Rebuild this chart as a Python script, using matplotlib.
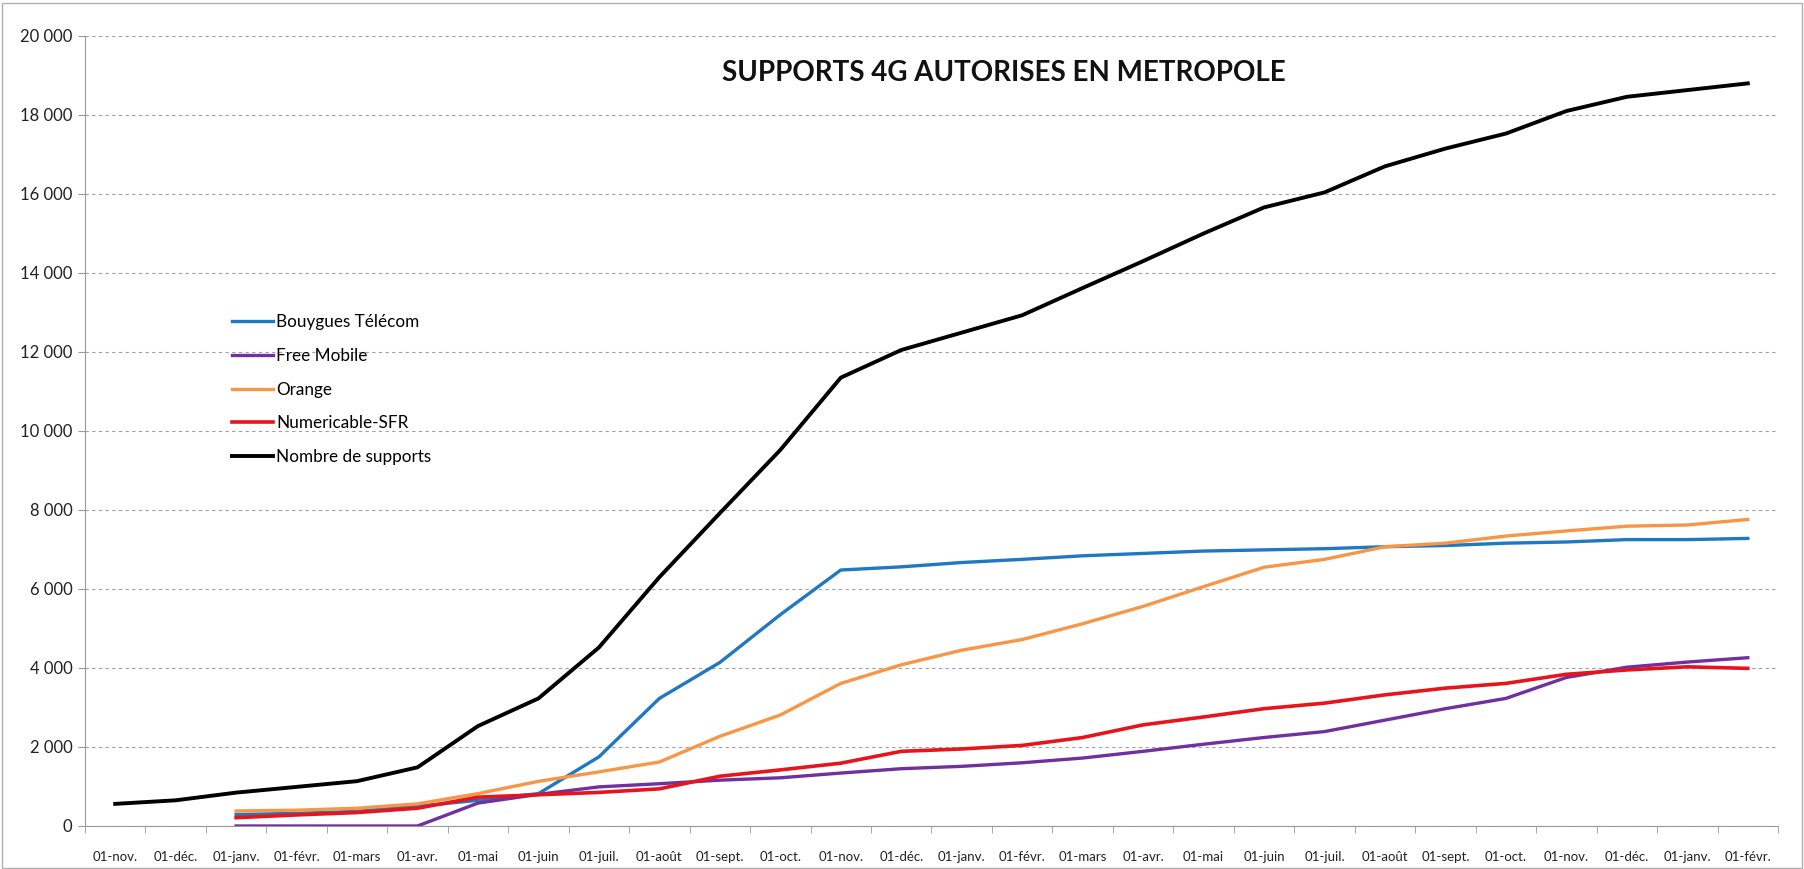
import numpy as np
import matplotlib
matplotlib.use("Agg")
import matplotlib.pyplot as plt
from matplotlib.patches import Rectangle
from matplotlib.ticker import FuncFormatter, MultipleLocator

nan = np.nan
months = ["01-nov.", "01-déc.", "01-janv.", "01-févr.", "01-mars", "01-avr.", "01-mai", "01-juin",
          "01-juil.", "01-août", "01-sept.", "01-oct.", "01-nov.", "01-déc.", "01-janv.", "01-févr.",
          "01-mars", "01-avr.", "01-mai", "01-juin", "01-juil.", "01-août", "01-sept.", "01-oct.",
          "01-nov.", "01-déc.", "01-janv.", "01-févr."]

bouygues = [nan, nan, 290, 320, 370, 500, 650, 820, 1750, 3230, 4140, 5350, 6480, 6560,
            6670, 6750, 6840, 6900, 6960, 6990, 7020, 7070, 7100, 7160, 7190, 7250, 7250, 7280]
free = [nan, nan, 0, 0, 0, 0, 580, 800, 990, 1070, 1160, 1220, 1340, 1450,
        1510, 1600, 1720, 1890, 2070, 2240, 2390, 2680, 2970, 3230, 3760, 4020, 4150, 4260]
orange = [nan, nan, 380, 400, 450, 560, 820, 1130, 1370, 1620, 2270, 2810, 3610, 4080,
          4450, 4720, 5120, 5560, 6060, 6550, 6750, 7070, 7160, 7340, 7470, 7590, 7620, 7760]
sfr = [nan, nan, 210, 280, 340, 450, 730, 790, 850, 940, 1260, 1420, 1590, 1890,
       1950, 2040, 2240, 2560, 2760, 2970, 3110, 3320, 3490, 3610, 3840, 3950, 4030, 3990]
total = [560, 650, 845, 990, 1135, 1485, 2530, 3230, 4520, 6300, 7920, 9520, 11350, 12050,
         12490, 12930, 13620, 14300, 15000, 15660, 16040, 16700, 17150, 17530, 18100, 18460, 18630, 18800]

series = [("Bouygues Télécom", bouygues, "#1f78c1", 2.4),
          ("Free Mobile", free, "#7030a0", 2.4),
          ("Orange", orange, "#f79646", 2.4),
          ("Numericable-SFR", sfr, "#e8141c", 2.6),
          ("Nombre de supports", total, "#000000", 2.8)]

plt.rcParams['font.family'] = ['Lato', 'DejaVu Sans']

fig = plt.figure(figsize=(18.04, 8.69), dpi=100)
ax = fig.add_axes([0.0471, 0.0495, 0.9385, 0.9091])

x = np.arange(len(months))
for name, vals, col, lw in series:
    ax.plot(x, vals, color=col, lw=lw, label=name, solid_joinstyle='round')

ax.set_xlim(-0.5, len(months) - 0.5)
ax.set_ylim(0, 20000)
ax.yaxis.set_major_locator(MultipleLocator(2000))
ax.yaxis.set_major_formatter(FuncFormatter(lambda v, p: f"{int(v):,}".replace(",", " ")))
ax.set_xticks(x)
ax.set_xticklabels(months, fontsize=9.5)
ax.set_xticks(np.arange(-0.5, len(months)), minor=True)
ax.tick_params(axis='x', which='major', length=0, pad=18, colors='#222222')
ax.tick_params(axis='x', which='minor', length=5, color='#999999')
ax.tick_params(axis='y', length=5, color='#999999', labelsize=12, labelcolor='#222222', pad=4)

ax.grid(axis='y', linestyle=(0, (3, 3)), color='#a0a0a0', lw=0.8)
ax.set_axisbelow(True)
for s in ['top', 'right']:
    ax.spines[s].set_visible(False)
for s in ['left', 'bottom']:
    ax.spines[s].set_color('#999999')

ax.text(0.5425, 0.953, "SUPPORTS 4G AUTORISES EN METROPOLE", transform=ax.transAxes,
        ha='center', va='center', fontsize=20, fontweight='bold', color='#111111')

leg = ax.legend(loc='upper left', bbox_to_anchor=(0.078, 0.668), frameon=False,
                fontsize=12.3, handlelength=2.4, handletextpad=0.15, labelspacing=1.05)

fig.patches.append(Rectangle((0.001, 0.001), 0.998, 0.996, transform=fig.transFigure,
                             fill=False, edgecolor='#b0b0b0', lw=1))

fig.savefig("out.png", dpi=100)
